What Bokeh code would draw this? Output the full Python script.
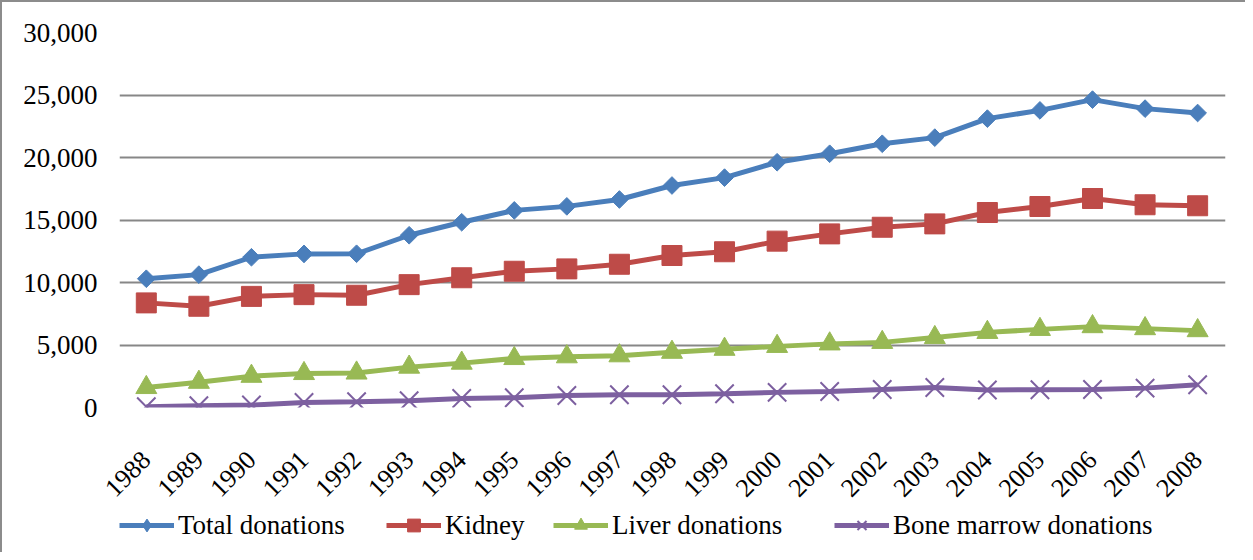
import math
from bokeh.plotting import figure
from bokeh.layouts import column
from bokeh.models import ColumnDataSource, Legend, LegendItem, FixedTicker, NumeralTickFormatter
from bokeh.embed import file_html
from bokeh.resources import INLINE

years = list(range(1988, 2009))
total = [10300, 10630, 12020, 12290, 12300, 13780, 14820, 15770, 16090, 16640, 17760,
         18390, 19620, 20300, 21100, 21590, 23110, 23770, 24630, 23910, 23560]
kidney = [8370, 8100, 8890, 9030, 8980, 9830, 10380, 10900, 11090, 11460, 12160,
          12460, 13310, 13890, 14420, 14690, 15600, 16080, 16720, 16220, 16140]
liver = [1600, 2020, 2500, 2720, 2760, 3230, 3550, 3920, 4060, 4140, 4420,
         4660, 4890, 5090, 5210, 5600, 6010, 6250, 6470, 6310, 6150]
bone = [60, 140, 200, 400, 460, 540, 720, 780, 960, 1020, 1020,
        1100, 1210, 1280, 1440, 1600, 1400, 1420, 1440, 1550, 1820]
y_ticks = [0, 5000, 10000, 15000, 20000, 25000, 30000]
series_names = ["Total donations", "Kidney", "Liver donations", "Bone marrow donations"]

FONT = "Liberation Serif"
BLUE, RED, GREEN, PURPLE = "#4A7EBB", "#BE4B48", "#98B954", "#7D60A0"
W = 1243

src = ColumnDataSource(dict(x=years, total=total, kidney=kidney, liver=liver, bone=bone))

p = figure(width=W, height=507, x_range=(1987.49, 2008.53), y_range=(0, 30000),
           output_backend="svg", toolbar_location=None,
           min_border_left=117, min_border_right=20, min_border_top=30, min_border_bottom=102)
p.outline_line_color = None

p.xgrid.grid_line_color = None
p.ygrid.grid_line_color = "#878787"
p.ygrid.grid_line_width = 1.8
p.yaxis.ticker = FixedTicker(ticks=y_ticks)
p.xaxis.ticker = FixedTicker(ticks=years)
p.yaxis.formatter = NumeralTickFormatter(format="0,0")
for ax in (p.xaxis, p.yaxis):
    ax.axis_line_color = None
    ax.major_tick_line_color = None
    ax.minor_tick_line_color = None
    ax.major_label_text_font = FONT
    ax.major_label_text_color = "black"
p.yaxis.major_label_text_font_size = "27px"
p.xaxis.major_label_text_font_size = "26px"
p.yaxis.major_label_standoff = 16
p.xaxis.major_label_orientation = math.pi / 4
p.xaxis.major_label_standoff = 42

LW = 5
p.line("x", "total", source=src, color=BLUE, line_width=LW)
p.scatter("x", "total", source=src, marker="square", angle=math.pi / 4, size=12.5, color=BLUE)
p.line("x", "kidney", source=src, color=RED, line_width=LW)
p.scatter("x", "kidney", source=src, marker="square", size=20, color=RED)
p.line("x", "liver", source=src, color=GREEN, line_width=LW)
p.scatter("x", "liver", source=src, marker="triangle", size=21, color=GREEN)
p.line("x", "bone", source=src, color=PURPLE, line_width=LW)
p.scatter("x", "bone", source=src, marker="x", size=26, line_color=PURPLE, line_width=2)

# legend strip (separate canvas below the chart, frame aligned with the chart's frame)
lg = figure(width=W, height=43, x_range=(0, 1), y_range=(0, 1), x_axis_type=None, y_axis_type=None,
            output_backend="svg", toolbar_location=None, min_border=0)
lg.outline_line_color = None
lg.grid.visible = False
dummy = ColumnDataSource(dict(x=[5, 6], y=[5, 6]))
legend_x = [0, 267, 434, 715]
for name, color, marker, lx in zip(series_names, [BLUE, RED, GREEN, PURPLE],
                                   ["diamond", "square", "triangle", "x"], legend_x):
    rl = lg.line("x", "y", source=dummy, color=color, line_width=LW)
    if marker == "x":
        rm = lg.scatter("x", "y", source=dummy, marker=marker, size=10, line_color=color, line_width=2)
    else:
        rm = lg.scatter("x", "y", source=dummy, marker=marker, size=10, color=color)
    leg = Legend(items=[LegendItem(label=name, renderers=[rl, rm])], orientation="horizontal",
                 location=(lx, 11), margin=0, padding=0,
                 glyph_width=55, glyph_height=32, label_standoff=4,
                 border_line_color=None, background_fill_alpha=0,
                 label_text_font=FONT, label_text_font_size="27px", label_text_color="black")
    lg.add_layout(leg, "center")

layout = column(p, lg, spacing=0)
layout.styles = {"border-left": "2px solid #8c8c8c", "border-top": "2px solid #8c8c8c"}

open("out.html", "w").write(file_html(layout, INLINE))
